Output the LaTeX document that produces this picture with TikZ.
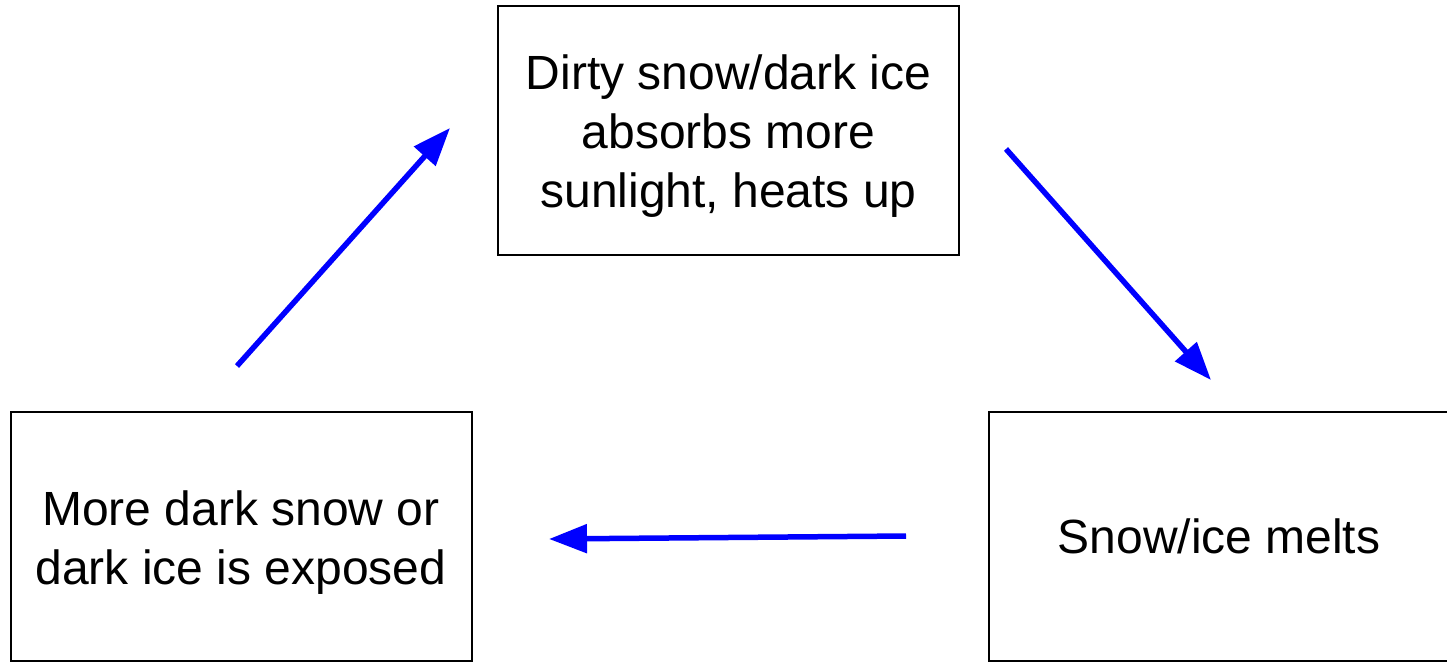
\documentclass[tikz,border=0pt]{standalone}
\usepackage{fontspec}
\setmainfont{Liberation Sans}
\usetikzlibrary{arrows.meta}
\newcommand{\lines}[2]{\raisebox{0pt}[\dimexpr\height+#1\relax]{\begin{tabular}{@{}c@{}}#2\end{tabular}}}
\begin{document}
\begin{tikzpicture}[x=1pt,y=-1pt,
  box/.style={draw=black,line width=2pt,fill=white,inner sep=0pt,align=center,
    font=\fontsize{48}{59}\selectfont,minimum width=461pt,minimum height=249pt},
  flow/.style={draw={rgb,255:red,0;green,0;blue,255},line width=5.5pt,
    -{Triangle[length=38pt,width=28pt]}}]
\useasboundingbox (0,0) rectangle (1447,661);
\node[box] (top) at (728.5,130.5) {\lines{13pt}{Dirty snow/dark ice\\absorbs more\\sunlight, heats up}};
\node[box] (right) at (1219,536) {Snow/ice melts};
\node[box] (left) at (241,536) {\lines{14pt}{More dark snow or\\dark ice is exposed}};
\coordinate (a1s) at (237,366);
\coordinate (a1e) at (450,128);
\coordinate (a2s) at (1006,149);
\coordinate (a2e) at (1211,380);
\coordinate (a3s) at (906,536);
\coordinate (a3e) at (549,539);
\draw[flow] (a1s) -- (a1e);
\draw[flow] (a2s) -- (a2e);
\draw[flow] (a3s) -- (a3e);
\end{tikzpicture}
\end{document}
